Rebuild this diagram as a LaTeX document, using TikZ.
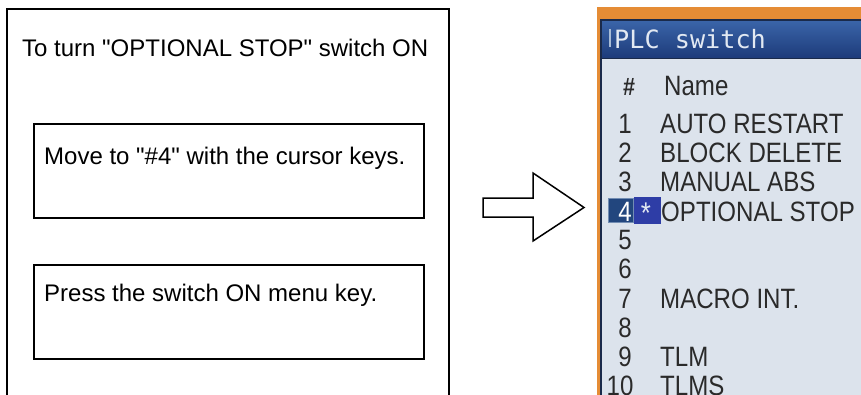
\documentclass[tikz,border=0pt]{standalone}
\usepackage{fontspec}
\setmainfont{Liberation Sans}[Ligatures=TeXOff]
\newfontfamily\listfont{Liberation Sans}[FakeStretch=0.86]
\newfontfamily\titlemono{DejaVu Sans Mono}
\definecolor{frameorange}{HTML}{E58C35}
\definecolor{panelbody}{HTML}{DCE3EC}
\definecolor{bartop}{HTML}{3A64A8}
\definecolor{barbot}{HTML}{1D3B7A}
\definecolor{barline}{HTML}{1A2A4A}
\definecolor{titletext}{HTML}{E2E9F2}
\definecolor{cursorbar}{HTML}{A8BCD6}
\definecolor{hlfour}{HTML}{22467E}
\definecolor{hlstar}{HTML}{2E3DA6}
\definecolor{listtext}{HTML}{2A2A2A}
\tikzset{
  frameline/.style={draw=black, line width=1.6pt},
  stepbox/.style={draw=black, line width=1.6pt, fill=white, minimum width=390pt, minimum height=94pt, anchor=north west, inner sep=0pt},
  lbl/.style={anchor=base west, inner sep=0pt, font=\fontsize{24}{26}\selectfont},
  listtxt/.style={inner sep=0pt, text=listtext, font=\listfont\fontsize{28}{30}\selectfont},
  numtxt/.style={listtxt, anchor=base},
  nametxt/.style={listtxt, anchor=base west},
  blockarrow/.style={draw=black, line width=1.5pt, fill=white, line join=miter}
}
\begin{document}
\begin{tikzpicture}[x=1pt,y=-1pt]
\useasboundingbox (0,0) rectangle (861,394);
\clip (0,0) rectangle (861,394);
\fill[white] (0,0) rectangle (861,394);
% left frame (open at bottom)
\coordinate (fbl) at (7,410);
\coordinate (ftl) at (7,9);
\coordinate (ftr) at (449,9);
\coordinate (fbr) at (449,410);
\draw[frameline] (fbl) -- (ftl) -- (ftr) -- (fbr);
\node[lbl] (title) at (22,56) {To turn "OPTIONAL STOP" switch ON};
\node[stepbox] (box1) at (33,123) {};
\node[lbl] (move) at (44,164) {Move to "\#4" with the cursor keys.};
\node[stepbox] (box2) at (33,264) {};
\node[lbl] (press) at (44,301) {Press the switch ON menu key.};
% block arrow
\draw[blockarrow] (483,198) -- (533,198) -- (533,173) -- (584,207.5) -- (533,241) -- (533,217) -- (483,217) -- cycle;
% screen panel
\fill[frameorange] (597,7) rectangle (870,410);
\fill[panelbody] (600,19) rectangle (870,410);
\shade[top color=bartop, bottom color=barbot] (602,21) rectangle (870,58);
\draw[barline, line width=1.2pt] (601,410) -- (601,20) -- (870,20);
\draw[barline, line width=1pt] (602,58.5) -- (870,58.5);
\fill[cursorbar] (608.5,29) rectangle (610.5,47);
\node[anchor=base west, inner sep=0pt, text=titletext, font=\titlemono\fontsize{25.2}{26}\selectfont] (plc) at (614,48) {PLC switch};
% header
\node[numtxt] (hnum) at (629,95) {\fontsize{25}{26}\selectfont\bfseries\#};
\node[nametxt] (hname) at (664,95) {Name};
% highlight of row 4
\fill[hlfour] (608,198) rectangle (634,223);
\draw[cursorbar!60!hlfour, line width=0.6pt] (608.3,198.3) rectangle (633.7,222.7);
\fill[hlstar] (634,197) rectangle (661,224);
% rows
\node[numtxt] (r1) at (625,133) {1};
\node[nametxt] (n1) at (660,133) {AUTO RESTART};
\node[numtxt] (r2) at (625,162) {2};
\node[nametxt] (n2) at (660,162) {BLOCK DELETE};
\node[numtxt] (r3) at (625,191) {3};
\node[nametxt] (n3) at (660,191) {MANUAL ABS};
\node[numtxt, text=white] (r4) at (625,221) {4};
\node[anchor=base, inner sep=0pt, text=titletext, font=\listfont\fontsize{30}{30}\selectfont] (star) at (646,223) {*};
\node[nametxt] (n4) at (661,221) {OPTIONAL STOP};
\node[numtxt] (r5) at (625,249.5) {5};
\node[numtxt] (r6) at (625,278.5) {6};
\node[numtxt] (r7) at (625,308) {7};
\node[nametxt] (n7) at (660,308) {MACRO INT.};
\node[numtxt] (r8) at (625,337) {8};
\node[numtxt] (r9) at (625,366.5) {9};
\node[nametxt] (n9) at (660,366.5) {TLM};
\node[numtxt] (r10) at (620,395) {10};
\node[nametxt] (n10) at (660,395) {TLMS};
\end{tikzpicture}
\end{document}
